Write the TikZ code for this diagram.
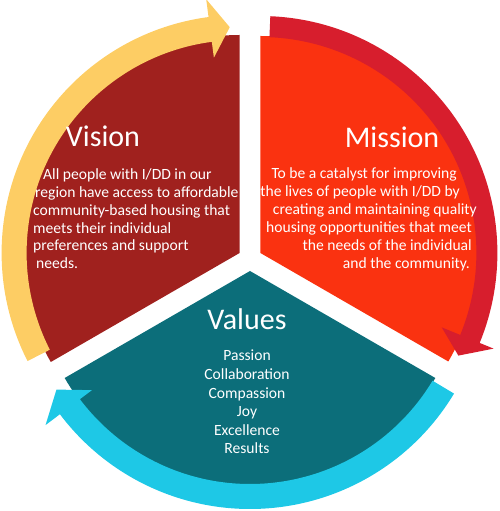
\documentclass[tikz,border=0pt]{standalone}
\usepackage{fontspec}
\setmainfont{Carlito}
\usetikzlibrary{calc}
\definecolor{visred}{HTML}{A0211E}
\definecolor{misorange}{HTML}{FA3210}
\definecolor{miscrimson}{HTML}{D71E2D}
\definecolor{visyellow}{HTML}{FDCD64}
\definecolor{valteal}{HTML}{0C6E7A}
\definecolor{valcyan}{HTML}{1EC8E6}
\tikzset{
  ttl/.style={text=white,font=\fontsize{30}{36}\selectfont,inner sep=0pt},
  bodytxt/.style={text=white,font=\fontsize{15.6}{18}\selectfont,inner sep=0pt}
}
\begin{document}
\begin{tikzpicture}[x=1pt,y=1pt]
\useasboundingbox (0,0) rectangle (500,511);
\coordinate (vc) at (239.6,258);
\coordinate (mc) at (260.4,258);
\coordinate (tc) at (250,240);
% sectors
\fill[visred] (vc) -- ++(90:218pt) arc[start angle=90,end angle=210,radius=218pt] -- cycle;
\fill[misorange] (mc) -- ++(-30:217pt) arc[start angle=-30,end angle=90,radius=217pt] -- cycle;
\fill[valteal] (tc) -- ++(210:214pt) arc[start angle=210,end angle=330,radius=214pt] -- cycle;
% curved arrows
\fill[visyellow] ($(vc)+(207:238pt)$) arc[start angle=207,end angle=97.5,radius=238pt]
  -- ($(vc)+(97.5:256pt)$) -- ($(vc)+(92.5:226pt)$) -- ($(vc)+(97.5:197pt)$)
  -- ($(vc)+(97.5:213pt)$) arc[start angle=97.5,end angle=207,radius=213pt] -- cycle;
\fill[miscrimson] ($(mc)+(87.6:237pt)$) arc[start angle=87.6,end angle=-22.3,radius=237pt]
  -- ($(mc)+(-22.3:252pt)$) -- ($(mc)+(-27.4:223pt)$) -- ($(mc)+(-22.3:196pt)$)
  -- ($(mc)+(-22.3:216pt)$) arc[start angle=-22.3,end angle=87.6,radius=216pt] -- cycle;
\fill[valcyan] ($(tc)+(-31:238pt)$) arc[start angle=-31,end angle=-143,radius=238pt]
  -- ($(tc)+(-143:256pt)$) -- ($(tc)+(-148.5:227pt)$) -- ($(tc)+(-143:198pt)$)
  -- ($(tc)+(-143:213pt)$) arc[start angle=-143,end angle=-31,radius=213pt] -- cycle;
% titles
\node[ttl,anchor=base] (vtitle) at (103,364) {Vision};
\node[ttl,anchor=base] (mtitle) at (392,363) {Mission};
\node[ttl,anchor=base] (ttitle) at (247,181) {Values};
% vision text
\node[bodytxt,anchor=base west] (v1) at (43,331) {All people with I/DD in our};
\node[bodytxt,anchor=base west] (v2) at (35,313) {region have access to affordable};
\node[bodytxt,anchor=base west] (v3) at (33,295) {community-based housing that};
\node[bodytxt,anchor=base west] (v4) at (33,277.5) {meets their individual};
\node[bodytxt,anchor=base west] (v5) at (33,260) {preferences and support};
\node[bodytxt,anchor=base west] (v6) at (36,242) {needs.};
% mission text
\node[bodytxt,anchor=base east] (m1) at (457,332) {To be a catalyst for improving};
\node[bodytxt,anchor=base east] (m2) at (460,314) {the lives of people with I/DD by};
\node[bodytxt,anchor=base east] (m3) at (477,296) {creating and maintaining quality};
\node[bodytxt,anchor=base east] (m4) at (472,278) {housing opportunities that meet};
\node[bodytxt,anchor=base east] (m5) at (472,260) {the needs of the individual};
\node[bodytxt,anchor=base east] (m6) at (470,242) {and the community.};
% values text
\node[bodytxt,anchor=base] (t1) at (247,150) {Passion};
\node[bodytxt,anchor=base] (t2) at (247,131.4) {Collaboration};
\node[bodytxt,anchor=base] (t3) at (247,112.8) {Compassion};
\node[bodytxt,anchor=base] (t4) at (247,94.2) {Joy};
\node[bodytxt,anchor=base] (t5) at (247,75.6) {Excellence};
\node[bodytxt,anchor=base] (t6) at (247,57) {Results};
\end{tikzpicture}
\end{document}
